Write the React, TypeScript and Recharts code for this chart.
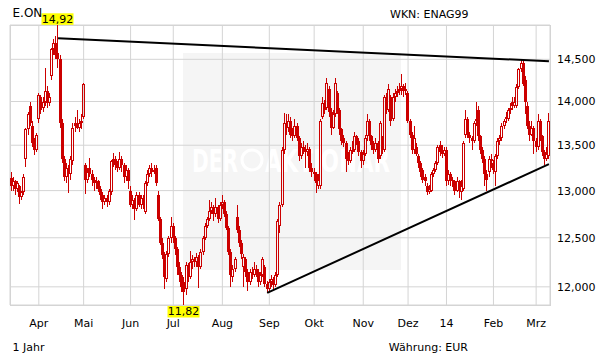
import { ComposedChart, Bar, Line, XAxis, YAxis, CartesianGrid } from "recharts";

// E.ON daily candles, one tuple per trading day: [open, high, low, close]
const mar13 = [
  [13.14, 13.2, 13.0, 13.05], [13.05, 13.15, 13.0, 13.1], [13.1, 13.12, 12.95, 13.02], [13.02, 13.1, 12.98, 13.08],
  [13.05, 13.06, 12.86, 12.93], [12.93, 13.0, 12.9, 12.98], [12.98, 13.18, 12.95, 13.15], [13.35, 13.7, 13.26, 13.68],
  [13.68, 13.88, 13.62, 13.85], [13.95, 14.0, 13.72, 13.75], [13.72, 13.78, 13.48, 13.52], [13.52, 13.58, 13.39, 13.45],
  [13.45, 13.64, 13.42, 13.62],
];
const apr13 = [
  [13.8, 14.1, 13.75, 14.08], [14.05, 14.08, 13.85, 13.9], [13.92, 14.05, 13.88, 14.0], [14.0, 14.4, 13.95, 14.12],
  [14.12, 14.18, 13.92, 13.98], [13.98, 14.1, 13.95, 14.05], [14.3, 14.64, 14.25, 14.62], [14.62, 14.75, 14.55, 14.7],
  [14.7, 14.78, 14.5, 14.55], [14.58, 14.92, 14.4, 14.5], [14.5, 14.55, 13.7, 13.75], [13.75, 13.8, 13.3, 13.35],
  [13.35, 13.38, 13.1, 13.15], [13.15, 13.3, 13.08, 13.25], [13.25, 13.28, 12.97, 13.18], [13.18, 13.38, 13.12, 13.35],
  [13.32, 13.75, 13.28, 13.7], [13.75, 13.82, 13.65, 13.72], [13.72, 13.9, 13.68, 13.72], [13.7, 13.8, 13.65, 13.75],
  [13.78, 13.85, 13.68, 13.75],
];
const may13 = [
  [13.82, 14.22, 13.8, 14.2], [13.28, 13.3, 12.96, 13.12], [13.12, 13.25, 13.08, 13.2], [13.25, 13.36, 13.15, 13.18],
  [13.18, 13.22, 13.05, 13.12], [13.12, 13.15, 13.0, 13.08], [13.08, 13.15, 13.02, 13.1], [13.1, 13.12, 12.98, 13.02],
  [13.02, 13.05, 12.9, 12.95], [12.95, 12.98, 12.8, 12.88], [12.88, 12.95, 12.84, 12.92], [12.92, 12.95, 12.82, 12.88],
  [12.88, 13.02, 12.85, 13.0], [12.98, 13.34, 12.95, 13.32], [13.32, 13.41, 13.26, 13.35], [13.35, 13.38, 13.22, 13.28],
  [13.28, 13.32, 13.2, 13.25], [13.25, 13.42, 13.22, 13.35], [13.35, 13.38, 13.2, 13.28], [13.28, 13.3, 13.08, 13.15],
  [13.15, 13.28, 13.1, 13.22], [13.22, 13.25, 13.02, 13.1],
];
const jun13 = [
  [13.0, 13.05, 12.82, 12.85], [12.85, 12.95, 12.8, 12.9], [12.9, 12.92, 12.69, 12.8], [12.8, 12.98, 12.78, 12.95],
  [12.95, 12.98, 12.82, 12.85], [12.85, 12.95, 12.8, 12.92], [12.92, 12.95, 12.8, 12.85], [12.77, 13.1, 12.75, 13.08],
  [13.08, 13.22, 13.05, 13.18], [13.18, 13.28, 13.15, 13.25], [13.25, 13.3, 13.15, 13.2], [13.2, 13.28, 13.18, 13.23],
  [13.25, 13.28, 13.05, 13.08], [12.95, 13.0, 12.68, 12.7], [12.7, 12.72, 12.42, 12.45], [12.45, 12.5, 12.28, 12.32],
  [12.32, 12.35, 11.98, 12.1], [12.08, 12.36, 12.05, 12.33], [12.33, 12.52, 12.3, 12.5], [12.5, 12.72, 12.45, 12.62],
];
const jul13 = [
  [12.62, 12.65, 12.45, 12.5], [12.5, 12.52, 12.32, 12.38], [12.38, 12.4, 12.12, 12.2], [12.2, 12.25, 12.05, 12.12],
  [12.12, 12.15, 11.95, 12.0], [12.05, 12.1, 11.82, 11.95], [11.98, 12.25, 11.92, 12.22], [12.22, 12.24, 12.05, 12.1],
  [12.1, 12.36, 12.08, 12.25], [12.25, 12.32, 12.18, 12.28], [12.28, 12.3, 12.2, 12.25], [12.25, 12.34, 12.2, 12.3],
  [12.3, 12.32, 11.99, 12.2], [12.2, 12.38, 12.18, 12.35], [12.35, 12.52, 12.32, 12.5], [12.5, 12.65, 12.48, 12.62],
  [12.62, 12.72, 12.6, 12.7], [12.7, 12.9, 12.68, 12.78], [12.78, 12.88, 12.75, 12.82], [12.82, 12.85, 12.68, 12.75],
  [12.75, 12.92, 12.72, 12.82], [12.82, 12.84, 12.65, 12.7], [12.7, 12.88, 12.68, 12.85],
];
const aug13 = [
  [12.85, 12.95, 12.8, 12.88], [12.88, 12.9, 12.72, 12.75], [12.75, 12.78, 12.58, 12.6], [12.6, 12.62, 12.32, 12.35],
  [12.35, 12.38, 12.0, 12.12], [12.1, 12.22, 12.05, 12.18], [12.18, 12.3, 12.15, 12.28], [12.72, 12.85, 12.55, 12.58],
  [12.58, 12.62, 12.4, 12.45], [12.45, 12.48, 12.28, 12.33], [12.2, 12.33, 12.0, 12.3], [12.28, 12.3, 12.1, 12.15],
  [12.15, 12.18, 11.96, 12.05], [12.05, 12.18, 12.02, 12.15], [12.15, 12.2, 12.08, 12.12], [12.12, 12.25, 12.1, 12.18],
  [12.18, 12.22, 12.1, 12.15], [12.15, 12.18, 12.0, 12.05], [12.05, 12.15, 12.02, 12.12], [12.12, 12.3, 12.1, 12.28],
  [12.2, 12.22, 12.0, 12.03], [12.03, 12.06, 11.94, 11.98],
];
const sep13 = [
  [11.98, 12.08, 11.95, 12.05], [12.05, 12.12, 12.0, 12.08], [12.08, 12.1, 11.98, 12.02], [12.02, 12.15, 12.0, 12.12],
  [12.12, 12.7, 12.1, 12.68], [12.62, 12.88, 12.55, 12.85], [12.85, 13.48, 12.82, 13.45], [13.45, 13.87, 13.4, 13.75],
  [13.75, 13.85, 13.62, 13.7], [13.7, 13.85, 13.65, 13.78], [13.78, 13.82, 13.58, 13.62], [13.62, 13.7, 13.55, 13.6],
  [13.6, 13.8, 13.58, 13.72], [13.72, 13.75, 13.55, 13.58], [13.58, 13.6, 13.32, 13.38], [13.38, 13.52, 13.35, 13.48],
  [13.48, 13.55, 13.4, 13.45], [13.45, 13.5, 13.25, 13.42], [13.42, 13.52, 13.38, 13.46], [13.46, 13.48, 13.2, 13.25],
  [13.25, 13.3, 13.15, 13.2],
];
const okt13 = [
  [13.2, 13.25, 13.1, 13.18], [13.18, 13.2, 12.97, 13.08], [13.05, 13.18, 13.02, 13.12], [13.05, 13.8, 13.02, 13.78],
  [13.82, 14.05, 13.8, 13.98], [13.98, 14.02, 13.85, 13.9], [13.92, 14.28, 13.9, 14.22], [14.15, 14.18, 13.82, 13.88],
  [13.88, 13.92, 13.62, 13.7], [13.7, 13.9, 13.68, 13.85], [13.85, 14.28, 13.82, 14.22], [14.1, 14.12, 13.85, 13.9],
  [13.9, 13.92, 13.62, 13.68], [13.68, 13.7, 13.5, 13.55], [13.58, 13.62, 13.48, 13.52], [13.52, 13.55, 13.2, 13.35],
  [13.38, 13.42, 13.28, 13.32], [13.32, 13.48, 13.3, 13.45], [13.45, 13.55, 13.4, 13.45], [13.45, 13.65, 13.42, 13.6],
  [13.6, 13.62, 13.5, 13.55], [13.55, 13.58, 13.38, 13.42], [13.42, 13.45, 13.25, 13.32],
];
const nov13 = [
  [13.32, 13.45, 13.28, 13.4], [13.4, 13.62, 13.38, 13.58], [13.6, 13.85, 13.55, 13.78], [13.78, 13.8, 13.55, 13.6],
  [13.6, 13.62, 13.45, 13.5], [13.5, 13.55, 13.4, 13.45], [13.45, 13.58, 13.42, 13.52], [13.52, 13.55, 13.3, 13.35],
  [13.38, 13.78, 13.35, 13.75], [13.55, 13.6, 13.4, 13.45], [13.45, 14.08, 13.42, 14.05], [14.05, 14.1, 13.85, 13.9],
  [13.9, 14.2, 13.88, 14.15], [14.05, 14.08, 13.72, 13.78], [13.8, 14.1, 13.78, 14.05], [14.05, 14.15, 14.0, 14.1],
  [14.1, 14.18, 14.05, 14.12], [14.12, 14.22, 14.08, 14.15], [14.15, 14.32, 14.08, 14.18], [14.18, 14.2, 14.05, 14.12],
  [14.12, 14.22, 14.08, 14.15],
];
const dez13 = [
  [14.1, 14.12, 13.75, 13.78], [13.78, 13.8, 13.58, 13.62], [13.62, 13.65, 13.4, 13.45], [13.45, 13.72, 13.4, 13.58],
  [13.48, 13.52, 13.38, 13.4], [13.38, 13.4, 13.25, 13.3], [13.3, 13.32, 13.15, 13.2], [13.22, 13.25, 13.08, 13.12],
  [13.15, 13.18, 13.05, 13.1], [13.05, 13.08, 12.95, 12.98], [12.98, 13.06, 12.96, 13.02], [13.0, 13.2, 12.98, 13.18],
  [13.18, 13.25, 13.15, 13.22], [13.22, 13.32, 13.2, 13.3], [13.3, 13.5, 13.28, 13.48], [13.5, 13.55, 13.38, 13.42],
  [13.45, 13.5, 13.36, 13.4], [13.4, 13.48, 13.38, 13.45],
];
const jan14 = [
  [13.45, 13.48, 13.05, 13.1], [13.1, 13.22, 13.06, 13.18], [13.18, 13.2, 13.05, 13.12], [13.12, 13.15, 13.04, 13.1],
  [13.1, 13.12, 12.95, 13.0], [13.0, 13.15, 12.98, 13.1], [13.1, 13.12, 12.92, 13.0], [12.98, 13.12, 12.9, 13.05],
  [13.02, 13.55, 13.0, 13.52], [13.62, 13.9, 13.58, 13.8], [13.8, 13.82, 13.58, 13.62], [13.62, 13.65, 13.52, 13.58],
  [13.58, 13.6, 13.45, 13.55], [13.55, 13.78, 13.52, 13.75], [13.8, 14.0, 13.72, 13.78], [13.9, 13.95, 13.55, 13.6],
  [13.6, 13.62, 13.4, 13.45], [13.45, 13.48, 13.3, 13.35], [13.35, 13.38, 13.05, 13.18], [13.18, 13.22, 13.0, 13.12],
  [13.2, 13.38, 13.15, 13.35], [13.35, 13.4, 13.25, 13.32],
];
const feb14 = [
  [13.3, 13.34, 13.18, 13.22], [13.2, 13.4, 13.05, 13.38], [13.38, 13.58, 13.35, 13.55], [13.55, 13.62, 13.5, 13.58],
  [13.58, 13.75, 13.55, 13.72], [13.72, 13.8, 13.68, 13.78], [13.82, 13.88, 13.75, 13.8], [13.8, 13.92, 13.78, 13.9],
  [13.9, 13.98, 13.85, 13.92], [14.0, 14.05, 13.9, 13.95], [13.95, 14.05, 13.92, 14.0], [13.95, 14.2, 13.92, 14.17],
  [14.17, 14.4, 14.15, 14.38], [14.38, 14.5, 14.35, 14.45], [14.45, 14.48, 14.18, 14.2], [14.25, 14.3, 13.85, 14.0],
  [13.95, 14.0, 13.68, 13.72], [13.72, 13.78, 13.55, 13.62], [13.62, 13.78, 13.6, 13.7], [13.7, 13.72, 13.4, 13.55],
];
const mar14 = [
  [13.55, 13.58, 13.42, 13.48], [13.48, 13.85, 13.45, 13.78], [13.78, 13.8, 13.55, 13.6], [13.6, 13.62, 13.38, 13.42],
  [13.42, 13.45, 13.28, 13.35], [13.35, 13.48, 13.32, 13.4], [13.38, 13.87, 13.35, 13.78],
];

const monthLabels = ["Apr", "Mai", "Jun", "Jul", "Aug", "Sep", "Okt", "Nov", "Dez", "14", "Feb", "Mrz"];
const priceTicks = [12, 12.5, 13, 13.5, 14, 14.5];
// trend lines as [day index, price]
const resistance = [[22, 14.757], [252, 14.477]];
const support = [[120, 11.94], [252, 13.29]];

const months = [mar13, apr13, may13, jun13, jul13, aug13, sep13, okt13, nov13, dez13, jan14, feb14, mar14];
const candles = months.flat();
const monthStarts = months
  .slice(0, -1)
  .map((_, k) => months.slice(0, k + 1).reduce((s, m) => s + m.length, 0));

const pointAt = (pts: number[][], i: number) => pts.find((p) => p[0] === i)?.[1] ?? null;

const data = candles.map(([o, h, l, c], i) => ({
  i, o, h, l, c,
  range: [l, h],
  res: pointAt(resistance, i),
  sup: pointAt(support, i),
}));

const highs = candles.map((d) => d[1]);
const lows = candles.map((d) => d[2]);
const maxHigh = Math.max(...highs);
const minLow = Math.min(...lows);
const maxIdx = highs.indexOf(maxHigh);
const minIdx = lows.indexOf(minLow);

const RED = "#cc0000";
const GRID = "#d4d4d4";
const FONT = "'DejaVu Sans', Verdana, sans-serif";
const fmt = (v: number, d: number) => v.toFixed(d).replace(".", ",");

const Candle = (props: any) => {
  const { x, y, width, height } = props;
  const { i, o, h, l, c } = props.payload;
  const top = Math.min(y, y + height);
  const span = Math.abs(height);
  const lr = Math.log(h / l);
  // position inside the high-low bar on the log scale
  const py = (v: number) => (lr > 0 ? top + (span * Math.log(h / v)) / lr : top);
  const px = Math.floor(x + width / 2);
  const yH = Math.round(py(h));
  const yL = Math.round(py(l));
  const up = c >= o;
  const bTop = Math.round(py(Math.max(o, c)));
  const bBot = Math.max(Math.round(py(Math.min(o, c))), bTop + (up ? 2 : 1));
  return (
    <g>
      <line x1={px + 0.5} x2={px + 0.5} y1={yH} y2={bTop} stroke={RED} />
      <line x1={px + 0.5} x2={px + 0.5} y1={bBot} y2={yL} stroke={RED} />
      {up ? (
        <rect x={px - 0.5} y={bTop + 0.5} width={2} height={bBot - bTop - 1} fill="none" stroke={RED} />
      ) : (
        <rect x={px - 1} y={bTop} width={3} height={bBot - bTop} fill={RED} />
      )}
      {i === maxIdx && (
        <g>
          <rect x={px + 0.5 - 16} y={yH - 11.7} width={32} height={11.5} fill="#ffff00" />
          <text x={px + 0.5} y={yH - 2.4} textAnchor="middle" fontSize={11} fontFamily={FONT} fill="#000">
            {fmt(h, 2)}
          </text>
        </g>
      )}
      {i === minIdx && (
        <g>
          <rect x={px + 0.5 - 16} y={yL + 1} width={32} height={11.5} fill="#ffff00" />
          <text x={px + 0.5} y={yL + 10.2} textAnchor="middle" fontSize={11} fontFamily={FONT} fill="#000">
            {fmt(l, 2)}
          </text>
        </g>
      )}
    </g>
  );
};

const txt = { fontSize: 11, fontFamily: FONT, fill: "#000" };

const App = () => (
  <div style={{ position: "absolute", left: 0, top: 0, width: 611, height: 364, background: "#fff", overflow: "hidden" }}>
    {/* watermark panel */}
    <div style={{ position: "absolute", left: 183, top: 53, width: 218, height: 217, background: "#f5f5f5" }} />
    <svg width={611} height={364} style={{ position: "absolute", left: 0, top: 0 }}>
      <g fill="#fff" fontFamily={FONT} fontWeight="bold" fontSize={32}>
        <text x={192} y={172} textLength={46} lengthAdjust="spacingAndGlyphs">DER</text>
        <circle cx={252} cy={160} r={10} fill="none" stroke="#fff" strokeWidth={3} />
        <text x={265} y={172} textLength={125} lengthAdjust="spacingAndGlyphs">AKTIONÄR</text>
      </g>
    </svg>
    <div style={{ position: "absolute", left: 10, top: 25, width: 541, height: 281, boxSizing: "border-box", border: `1px solid ${GRID}` }} />
    <div style={{ position: "absolute", left: 0, top: 0 }}>
      <ComposedChart
        width={611}
        height={364}
        data={data}
        margin={{ top: 25, right: 0, bottom: 0, left: 10 }}
        barCategoryGap={0}
        barGap={0}
      >
        <CartesianGrid stroke={GRID} />
        <XAxis
          dataKey="i"
          type="category"
          ticks={monthStarts}
          interval={0}
          tickFormatter={(v: number) => monthLabels[monthStarts.indexOf(v)]}
          tickLine={false}
          axisLine={false}
          tickSize={8}
          tickMargin={6}
          height={59}
          tick={txt}
        />
        <YAxis
          orientation="right"
          scale="log"
          domain={[minLow, maxHigh]}
          ticks={priceTicks}
          tickFormatter={(v: number) => fmt(v, 3)}
          tickLine={false}
          axisLine={false}
          tickSize={5}
          tickMargin={2}
          width={61}
          tick={txt}
        />
        <Bar dataKey="range" shape={<Candle />} isAnimationActive={false} />
        <Line dataKey="res" stroke="#000" strokeWidth={2} dot={false} activeDot={false} connectNulls isAnimationActive={false} />
        <Line dataKey="sup" stroke="#000" strokeWidth={2} dot={false} activeDot={false} connectNulls isAnimationActive={false} />
      </ComposedChart>
    </div>
    <svg width={611} height={364} style={{ position: "absolute", left: 0, top: 0, pointerEvents: "none" }}>
      <text x={12.5} y={17} fontSize={12} fontFamily={FONT} fill="#000">E.ON</text>
      <text x={390} y={17.5} {...txt}>WKN: ENAG99</text>
      <text x={12.5} y={351} {...txt}>1 Jahr</text>
      <text x={468} y={351} textAnchor="end" {...txt}>Währung: EUR</text>
    </svg>
  </div>
);

export default App;
